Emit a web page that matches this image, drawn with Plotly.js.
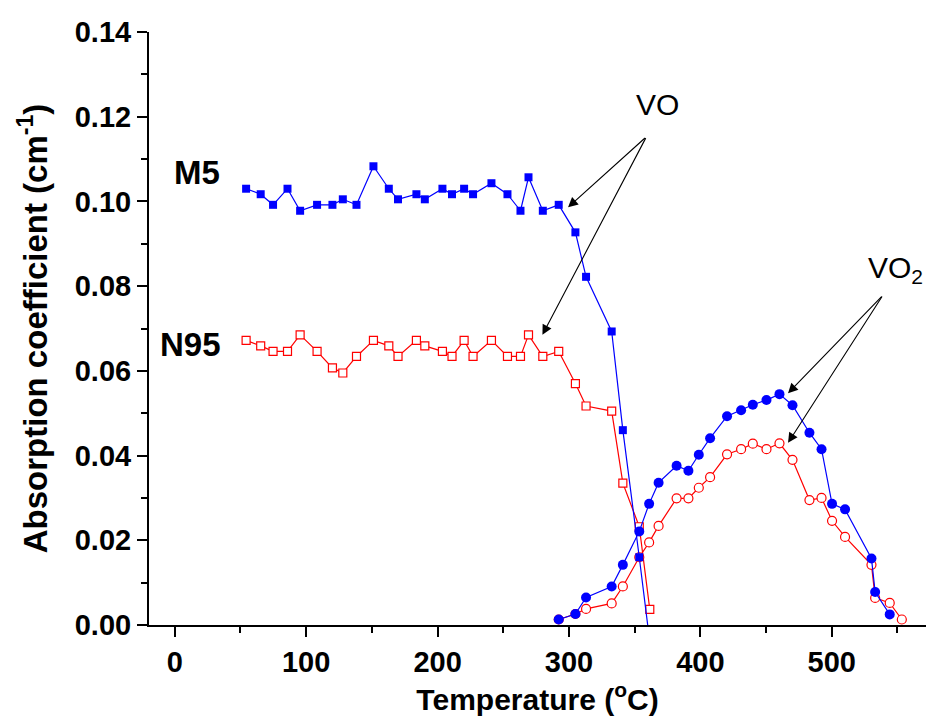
<!DOCTYPE html>
<html><head><meta charset="utf-8">
<script src="https://cdn.plot.ly/plotly-3.0.1.min.js"></script>
<style>html,body{margin:0;padding:0;background:#fff}#chart{width:926px;height:724px}</style>
</head><body><div id="chart"></div>
<script>
// Temperatures (°C) for the VO (square) series
const tempVO = [54.3, 65.4, 74.8, 85.8, 95.4, 108.3, 120.0, 127.9, 138.3, 151.2, 162.9, 169.9, 183.9, 190.3, 203.7, 211.0, 220.2, 227.0, 241.0, 253.2, 263.1, 269.2, 280.1, 292.2, 304.9, 313.0, 332.5, 341.0, 353.5, 361.5];
const m5VO = [0.1030, 0.1017, 0.0992, 0.1030, 0.0978, 0.0992, 0.0992, 0.1005, 0.0992, 0.1083, 0.1030, 0.1005, 0.1017, 0.1005, 0.1030, 0.1017, 0.1030, 0.1017, 0.1043, 0.1017, 0.0978, 0.1057, 0.0978, 0.0992, 0.0927, 0.0822, 0.0693, 0.0460, 0.0160, -0.0040];
const n95VO = [0.0672, 0.0659, 0.0646, 0.0646, 0.0685, 0.0646, 0.0607, 0.0595, 0.0634, 0.0672, 0.0659, 0.0634, 0.0672, 0.0659, 0.0646, 0.0634, 0.0672, 0.0634, 0.0672, 0.0634, 0.0634, 0.0685, 0.0634, 0.0646, 0.0570, 0.0517, 0.0505, 0.0335, 0.0232, 0.0037];

// Temperatures (°C) for the VO2 (circle) series
const tempVO2 = [292.2, 304.9, 313.0, 332.5, 341.0, 353.5, 361.0, 368.2, 381.9, 390.9, 398.8, 407.4, 420.3, 431.0, 439.9, 450.3, 460.2, 470.1, 483.0, 492.2, 500.2, 510.1, 530.2, 533.0, 544.1, 553.3];
const m5VO2 = [0.0013, 0.0026, 0.0065, 0.0091, 0.0142, 0.0221, 0.0286, 0.0336, 0.0376, 0.0364, 0.0402, 0.0441, 0.0493, 0.0507, 0.0520, 0.0531, 0.0545, 0.0519, 0.0454, 0.0415, 0.0286, 0.0273, 0.0157, 0.0078, 0.0025, null];
const n95VO2 = [0.0013, 0.0026, 0.0038, 0.0051, 0.0091, 0.0160, 0.0195, 0.0234, 0.0299, 0.0299, 0.0324, 0.0349, 0.0403, 0.0415, 0.0428, 0.0415, 0.0429, 0.0390, 0.0295, 0.0300, 0.0246, 0.0208, 0.0142, 0.0064, 0.0052, 0.0013];

// Axis ticks
const xTicks = [0, 100, 200, 300, 400, 500];
const yTicks = [0.00, 0.02, 0.04, 0.06, 0.08, 0.10, 0.12, 0.14];

// Labels
const sampleLabels = ['M5', 'N95'];
const phaseLabels = ['VO', 'VO<sub>2</sub>'];

const FONT = 'Liberation Sans, Arial, sans-serif';
const BLUE = '#0000FF', RED = '#FF0000';

const traces = [
  {x: tempVO, y: n95VO, name: 'N95 VO', mode: 'lines+markers', cliponaxis: true,
   line: {color: RED, width: 1.2},
   marker: {symbol: 'square', size: 8, color: '#FFFFFF', line: {color: RED, width: 1.2}}},
  {x: tempVO2, y: n95VO2, name: 'N95 VO2', mode: 'lines+markers', cliponaxis: true,
   line: {color: RED, width: 1.2},
   marker: {symbol: 'circle', size: 9, color: '#FFFFFF', line: {color: RED, width: 1.2}}},
  {x: tempVO, y: m5VO, name: 'M5 VO', mode: 'lines+markers', cliponaxis: true,
   line: {color: BLUE, width: 1.2},
   marker: {symbol: 'square', size: 8, color: BLUE, line: {width: 0}}},
  {x: tempVO2, y: m5VO2, name: 'M5 VO2', mode: 'lines+markers', cliponaxis: true,
   line: {color: BLUE, width: 1.2},
   marker: {symbol: 'circle', size: 10, color: BLUE, line: {width: 0}}}
];

function arrow(tx, ty, hx, hy) {
  return {x: hx, y: hy, ax: tx, ay: ty, xref: 'x', yref: 'y', axref: 'x', ayref: 'y',
          text: '', showarrow: true, arrowhead: 2, arrowsize: 1.8, arrowwidth: 1.1,
          arrowcolor: '#000', standoff: 0, startstandoff: 0};
}

const layout = {
  width: 926, height: 724,
  margin: {l: 149, r: 0, t: 32, b: 99},
  paper_bgcolor: '#fff', plot_bgcolor: '#fff',
  showlegend: false,
  font: {family: FONT, color: '#000'},
  xaxis: {
    range: [-19.6, 571.7], tickvals: xTicks, ticktext: xTicks.map(String),
    ticks: 'outside', ticklen: 10, tickwidth: 2, tickcolor: '#000',
    minor: {tickvals: [50, 150, 250, 350, 450, 550], ticks: 'outside', ticklen: 6, tickwidth: 2, tickcolor: '#000'},
    showline: true, linewidth: 2, linecolor: '#000', showgrid: false, zeroline: false,
    tickfont: {family: FONT, size: 29, weight: 'bold', color: '#000'},
    title: {text: 'Temperature (<sup>o</sup>C)', font: {family: FONT, size: 30, weight: 'bold', color: '#000'}, standoff: 12}
  },
  yaxis: {
    range: [0, 0.14], tickvals: yTicks, ticktext: yTicks.map(v => v.toFixed(2)),
    ticks: 'outside', ticklen: 10, tickwidth: 2, tickcolor: '#000',
    minor: {tickvals: [0.01, 0.03, 0.05, 0.07, 0.09, 0.11, 0.13], ticks: 'outside', ticklen: 6, tickwidth: 2, tickcolor: '#000'},
    showline: true, linewidth: 2, linecolor: '#000', showgrid: false, zeroline: false,
    tickfont: {family: FONT, size: 29, weight: 'bold', color: '#000'},
    title: {text: 'Absorption coefficient (cm<sup>-1</sup>)', font: {family: FONT, size: 33, weight: 'bold', color: '#000'}, standoff: 17}
  },
  annotations: [
    {x: 16.7, y: 0.1069, xref: 'x', yref: 'y', text: sampleLabels[0], showarrow: false,
     font: {family: FONT, size: 33, weight: 'bold', color: '#000'}},
    {x: 12.2, y: 0.0663, xref: 'x', yref: 'y', text: sampleLabels[1], showarrow: false,
     font: {family: FONT, size: 33, weight: 'bold', color: '#000'}},
    {x: 367.6, y: 0.1230, xref: 'x', yref: 'y', text: phaseLabels[0], showarrow: false,
     font: {family: FONT, size: 30, color: '#000'}},
    {x: 525.9, y: 0.0840, xref: 'x', yref: 'y', xanchor: 'left', text: phaseLabels[1], showarrow: false,
     font: {family: FONT, size: 30, color: '#000'}},
    arrow(359.0, 0.1153, 299.3, 0.0986),
    arrow(359.0, 0.1153, 279.8, 0.0685),
    arrow(539.0, 0.0779, 466.7, 0.0547),
    arrow(539.0, 0.0779, 466.7, 0.0430)
  ]
};

Plotly.newPlot('chart', traces, layout, {staticPlot: true, displayModeBar: false});
</script></body></html>
